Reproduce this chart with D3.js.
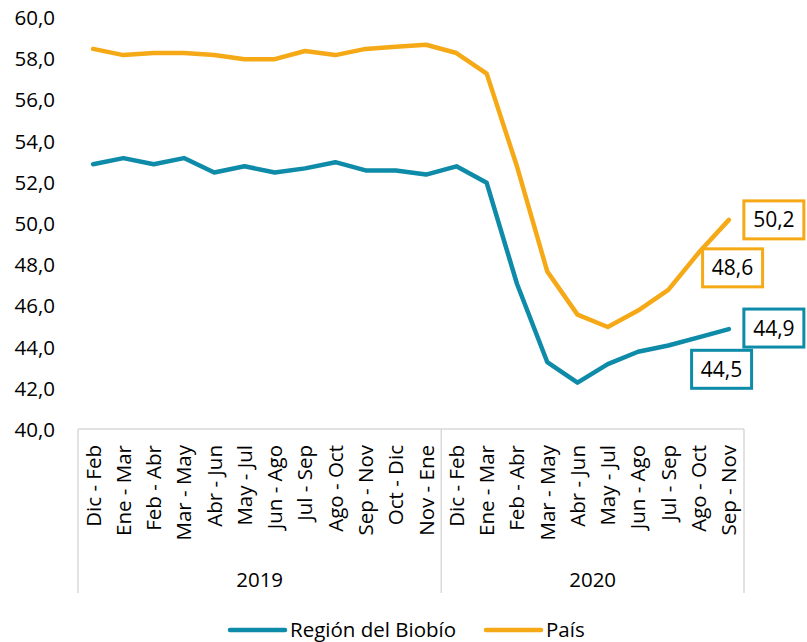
<!DOCTYPE html>
<html>
<head>
<meta charset="utf-8">
<script src="https://cdn.jsdelivr.net/npm/d3@7"></script>
<style>
  body { margin: 0; background: #ffffff; }
  text { font-family: "Open Sans", sans-serif; fill: #000000; }
</style>
</head>
<body>
<svg id="chart" width="807" height="642"></svg>
<script>
const periods = [
  "Dic - Feb", "Ene - Mar", "Feb - Abr", "Mar - May", "Abr - Jun", "May - Jul",
  "Jun - Ago", "Jul - Sep", "Ago - Oct", "Sep - Nov", "Oct - Dic", "Nov - Ene",
  "Dic - Feb", "Ene - Mar", "Feb - Abr", "Mar - May", "Abr - Jun", "May - Jul",
  "Jun - Ago", "Jul - Sep", "Ago - Oct", "Sep - Nov"
];
const years = ["2019", "2020"];
const yearCounts = [12, 10];

const biobio = [52.9, 53.2, 52.9, 53.2, 52.5, 52.8, 52.5, 52.7, 53.0, 52.6, 52.6, 52.4,
                52.8, 52.0, 47.1, 43.3, 42.3, 43.2, 43.8, 44.1, 44.5, 44.9];
const pais = [58.5, 58.2, 58.3, 58.3, 58.2, 58.0, 58.0, 58.4, 58.2, 58.5, 58.6, 58.7,
              58.3, 57.3, 52.8, 47.7, 45.6, 45.0, 45.8, 46.8, 48.6, 50.2];

const yTicks = [40, 42, 44, 46, 48, 50, 52, 54, 56, 58, 60];

const series = [
  { name: "Región del Biobío", values: biobio, color: "#0E8BA8" },
  { name: "País", values: pais, color: "#F6A916" }
];

// label boxes for the last two points of each series (offset from the point)
const labelOffsets = {
  "Región del Biobío": [[23, 32], [45, -1]],
  "País": [[34, 15], [45, 0]]
};

const fmt = v => d3.format(".1f")(v).replace(".", ",");

const svg = d3.select("#chart");
const plot = { left: 78, right: 744, top: 18, bottom: 430 };

const x = d3.scaleBand().domain(d3.range(periods.length)).range([plot.left, plot.right]);
const cx = i => x(i) + x.bandwidth() / 2;
const y = d3.scaleLinear().domain([40, 60]).range([plot.bottom, plot.top]);

// y axis labels
const yAxis = svg.append("g")
  .attr("transform", `translate(${plot.left},0)`)
  .call(d3.axisLeft(y).tickValues(yTicks).tickFormat(fmt).tickSize(0).tickPadding(23));
yAxis.select(".domain").remove();
yAxis.selectAll("text")
  .attr("font-family", "Open Sans")
  .attr("font-size", 20.5)
  .attr("fill", "#000");

// category axis
const axisY = plot.bottom - 1;
const gx = svg.append("g");
gx.append("line")
  .attr("x1", plot.left).attr("x2", plot.right)
  .attr("y1", axisY).attr("y2", axisY)
  .attr("stroke", "#d9d9d9").attr("stroke-width", 1.5);

let acc = 0;
const bounds = [0];
yearCounts.forEach(c => { acc += c; bounds.push(acc); });
const boundX = b => (b < periods.length ? x(b) : plot.right);
bounds.forEach(b => {
  gx.append("line")
    .attr("x1", boundX(b)).attr("x2", boundX(b))
    .attr("y1", axisY).attr("y2", 593)
    .attr("stroke", "#d9d9d9").attr("stroke-width", 1.5);
});

gx.selectAll("text.period")
  .data(periods)
  .join("text")
  .attr("class", "period")
  .attr("transform", (d, i) => `translate(${cx(i)},445) rotate(-90)`)
  .attr("text-anchor", "end")
  .attr("dy", "0.36em")
  .attr("font-size", 20.5)
  .text(d => d);

gx.selectAll("text.year")
  .data(years)
  .join("text")
  .attr("class", "year")
  .attr("x", (d, i) => (boundX(bounds[i]) + boundX(bounds[i + 1])) / 2)
  .attr("y", 580)
  .attr("dy", "0.36em")
  .attr("text-anchor", "middle")
  .attr("font-size", 20.5)
  .text(d => d);

// lines
const line = d3.line().x((d, i) => cx(i)).y(d => y(d));
series.forEach(s => {
  svg.append("path")
    .datum(s.values)
    .attr("fill", "none")
    .attr("stroke", s.color)
    .attr("stroke-width", 4.5)
    .attr("stroke-linejoin", "round")
    .attr("stroke-linecap", "round")
    .attr("d", line);
});

// data labels
series.forEach(s => {
  const n = s.values.length;
  labelOffsets[s.name].forEach((off, k) => {
    const i = n - 2 + k;
    const px = cx(i) + off[0], py = y(s.values[i]) + off[1];
    const g = svg.append("g").attr("transform", `translate(${px},${py})`);
    g.append("rect")
      .attr("x", -30).attr("y", -19)
      .attr("width", 60).attr("height", 38)
      .attr("fill", "#fff")
      .attr("stroke", s.color).attr("stroke-width", 3);
    g.append("text")
      .attr("text-anchor", "middle")
      .attr("dy", "0.36em")
      .attr("font-size", 21)
      .text(fmt(s.values[i]));
  });
});

// legend
const legendX = [230, 486];
series.forEach((s, i) => {
  const g = svg.append("g").attr("transform", `translate(${legendX[i]},630)`);
  g.append("line")
    .attr("x1", 0).attr("x2", 55)
    .attr("stroke", s.color).attr("stroke-width", 4.5)
    .attr("stroke-linecap", "round");
  g.append("text")
    .attr("x", 60)
    .attr("dy", "0.36em")
    .attr("font-size", 20.5)
    .text(s.name);
});
</script>
</body>
</html>
